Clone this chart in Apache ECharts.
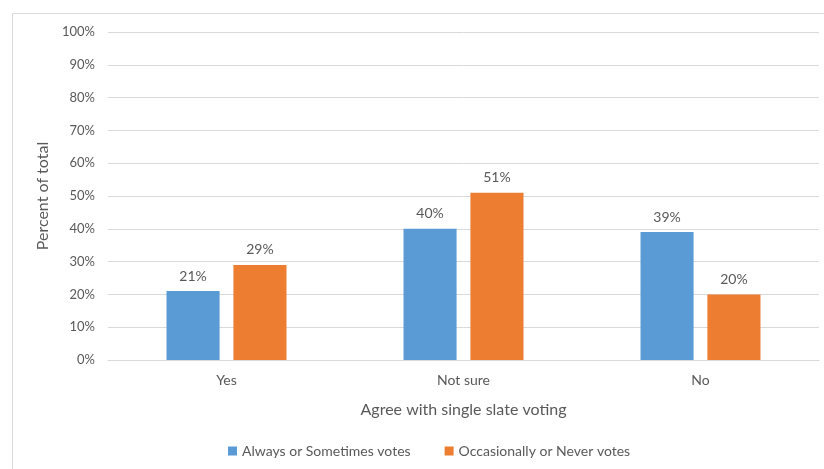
<!DOCTYPE html>
<html>
<head>
<meta charset="utf-8">
<script src="https://cdn.jsdelivr.net/npm/echarts@6/dist/echarts.min.js"></script>
<style>
  html, body { margin: 0; padding: 0; background: #fff; }
  #chart { width: 824px; height: 469px; }
</style>
</head>
<body>
<div id="chart"></div>
<script>
const categories = ['Yes', 'Not sure', 'No'];
const alwaysSometimes = [21, 40, 39];
const occasionallyNever = [29, 51, 20];
const seriesNames = ['Always or Sometimes votes', 'Occasionally or Never votes'];
const yTicks = [0, 10, 20, 30, 40, 50, 60, 70, 80, 90, 100];

const font = 'Lato, "Open Sans", sans-serif';
const textColor = '#595959';

const chart = echarts.init(document.getElementById('chart'));
chart.setOption({
  animation: false,
  textStyle: { fontFamily: font },
  graphic: [{
    type: 'rect',
    shape: { x: 12.5, y: 13.5, width: 830, height: 470 },
    style: { fill: 'none', stroke: '#d9d9d9', lineWidth: 1 },
    silent: true
  }],
  grid: { left: 108, right: 5, top: 32, bottom: 109 },
  legend: {
    bottom: 6,
    left: 223,
    itemWidth: 9,
    itemHeight: 9,
    itemGap: 34,
    icon: 'rect',
    textStyle: { color: textColor, fontSize: 14, fontFamily: font },
    data: seriesNames
  },
  xAxis: {
    type: 'category',
    data: categories,
    name: 'Agree with single slate voting',
    nameLocation: 'middle',
    nameGap: 42,
    nameTextStyle: { color: textColor, fontSize: 16, fontFamily: font },
    axisLine: { lineStyle: { color: '#d9d9d9' } },
    axisTick: { show: false },
    axisLabel: { color: textColor, fontSize: 14, margin: 13, fontFamily: font }
  },
  yAxis: {
    type: 'value',
    min: yTicks[0],
    max: yTicks[yTicks.length - 1],
    interval: 10,
    name: 'Percent of total',
    nameLocation: 'middle',
    nameGap: 54,
    nameTextStyle: { color: textColor, fontSize: 16, fontFamily: font },
    axisLine: { show: false },
    axisTick: { show: false },
    axisLabel: { color: textColor, fontSize: 13, margin: 13, formatter: '{value}%', fontFamily: font },
    splitLine: { lineStyle: { color: '#d9d9d9' } }
  },
  series: [
    {
      name: seriesNames[0],
      type: 'bar',
      data: alwaysSometimes,
      barWidth: '22.4%',
      barGap: '26%',
      itemStyle: { color: '#5b9bd5' },
      label: { show: true, position: 'top', distance: 8, formatter: '{c}%', color: textColor, fontSize: 14, fontFamily: font }
    },
    {
      name: seriesNames[1],
      type: 'bar',
      data: occasionallyNever,
      barWidth: '22.4%',
      barGap: '26%',
      itemStyle: { color: '#ed7d31' },
      label: { show: true, position: 'top', distance: 8, formatter: '{c}%', color: textColor, fontSize: 14, fontFamily: font }
    }
  ]
});
</script>
</body>
</html>
